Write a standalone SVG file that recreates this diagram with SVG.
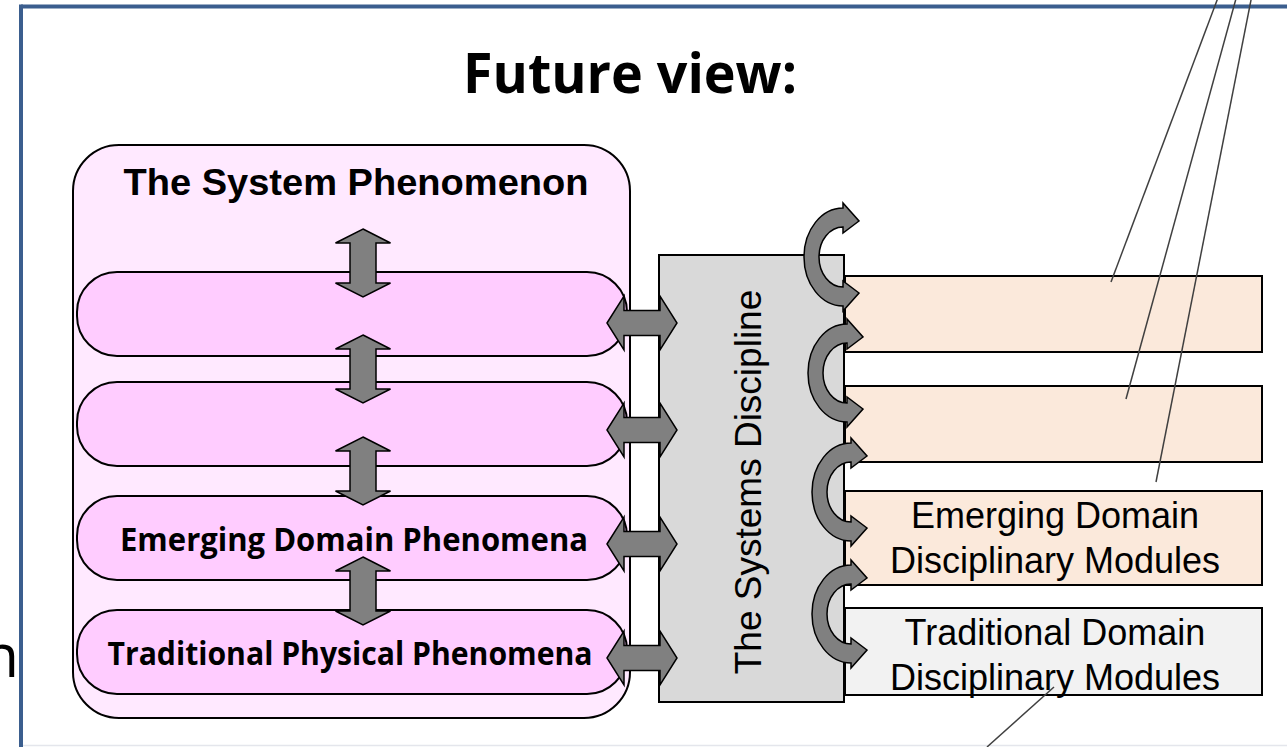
<svg xmlns="http://www.w3.org/2000/svg" xmlns:xlink="http://www.w3.org/1999/xlink" width="1287" height="747" viewBox="0 0 1287 747">
<defs>
<style>
.frame{stroke:#3B5E8E;stroke-width:4;fill:none}
.outer{fill:#FFE9FF;stroke:#000;stroke-width:2}
.pill{fill:#FFCCFF;stroke:#000;stroke-width:2}
.box{fill:#D9D9D9;stroke:#000;stroke-width:2}
.mod{fill:#FBE9DB;stroke:#000;stroke-width:2}
.trad{fill:#F2F2F2;stroke:#000;stroke-width:2}
.arrow{fill:#808080;stroke:#000;stroke-width:1.5;stroke-linejoin:miter}
.callout{stroke:#404040;stroke-width:1.5;fill:none}
.cal{font-family:"Open Sans","Liberation Sans",sans-serif;font-weight:bold;fill:#000}
.arb{font-family:"Liberation Sans",Arial,sans-serif;font-weight:bold;fill:#000}
.ar{font-family:"Liberation Sans",Arial,sans-serif;fill:#000}
</style>
<path id="varrow" d="M0,0 L27.5,14 L13,14 L13,54 L27.5,54 L0,68 L-27.5,54 L-13,54 L-13,14 L-27.5,14 Z"/>
<path id="harrow" d="M0,0 L17,-27 L17,-12.5 L53,-12.5 L53,-27 L70,0 L53,27 L53,12.5 L17,12.5 L17,27 Z"/>
<path id="carrow" d="M0,-49 A39,49 0 0 0 0,49 L0,54 L16,36 L0,24 L0,30 A24,30 0 0 1 0,-30 L0,-24 L16,-36 L0,-54 Z"/>
</defs>
<rect width="1287" height="747" fill="#fff"/>
<g id="frame">
<line x1="21" y1="6.5" x2="1287" y2="6.5" class="frame"/>
<line x1="21" y1="4.5" x2="21" y2="747" class="frame"/>
<line x1="23" y1="745.5" x2="1287" y2="745.5" stroke="#E4E6EC" stroke-width="1.5"/>
<text x="19" y="677" font-family="'Open Sans','Liberation Sans',sans-serif" font-size="60" text-anchor="end" fill="#000">n</text>
</g>
<g id="title">
<text x="630" y="93" class="cal" font-size="56" text-anchor="middle" textLength="334" lengthAdjust="spacingAndGlyphs">Future view:</text>
</g>
<g id="system-phenomenon">
<rect x="73" y="145" width="557" height="573" rx="46" ry="46" class="outer"/>
<text x="356" y="195" class="arb" font-size="37" text-anchor="middle" textLength="465" lengthAdjust="spacingAndGlyphs">The System Phenomenon</text>
</g>
<g id="pill-1"><rect x="77" y="272" width="550" height="84" rx="40" ry="40" class="pill"/></g>
<g id="pill-2"><rect x="77" y="382" width="550" height="84" rx="40" ry="40" class="pill"/></g>
<g id="pill-emerging"><rect x="77" y="496" width="550" height="84" rx="40" ry="40" class="pill"/>
<text x="354" y="551" class="cal" font-size="33" text-anchor="middle" textLength="468" lengthAdjust="spacingAndGlyphs">Emerging Domain Phenomena</text></g>
<g id="pill-traditional"><rect x="77" y="610" width="550" height="84" rx="40" ry="40" class="pill"/>
<text x="350" y="665" class="cal" font-size="33" text-anchor="middle" textLength="485" lengthAdjust="spacingAndGlyphs">Traditional Physical Phenomena</text></g>
<g id="systems-discipline">
<rect x="659" y="255" width="185" height="447" class="box"/>
<text transform="translate(761,482) rotate(-90)" class="ar" font-size="37" text-anchor="middle">The Systems Discipline</text>
</g>
<g id="module-1"><rect x="845" y="276" width="417" height="76" class="mod"/></g>
<g id="module-2"><rect x="845" y="386" width="417" height="76" class="mod"/></g>
<g id="module-emerging"><rect x="845" y="491" width="417" height="94" class="mod"/>
<text x="1055" y="528" class="ar" font-size="36" text-anchor="middle">Emerging Domain</text>
<text x="1055" y="573" class="ar" font-size="36" text-anchor="middle">Disciplinary Modules</text></g>
<g id="module-traditional"><rect x="845" y="608" width="417" height="87" class="trad"/>
<text x="1055" y="645" class="ar" font-size="36" text-anchor="middle">Traditional Domain</text>
<text x="1055" y="690" class="ar" font-size="36" text-anchor="middle">Disciplinary Modules</text></g>
<g id="connectors">
<use xlink:href="#varrow" x="363" y="229" class="arrow"/>
<use xlink:href="#varrow" x="363" y="335" class="arrow"/>
<use xlink:href="#varrow" x="363" y="437" class="arrow"/>
<use xlink:href="#varrow" x="363" y="557" class="arrow"/>
<use xlink:href="#harrow" x="607" y="323" class="arrow"/>
<use xlink:href="#harrow" x="607" y="430" class="arrow"/>
<use xlink:href="#harrow" x="607" y="544" class="arrow"/>
<use xlink:href="#harrow" x="607" y="658" class="arrow"/>
<use xlink:href="#carrow" x="843" y="257" class="arrow"/>
<use xlink:href="#carrow" x="847" y="373" class="arrow"/>
<use xlink:href="#carrow" x="851" y="492" class="arrow"/>
<use xlink:href="#carrow" x="851" y="614" class="arrow"/>
<line x1="1219" y1="-5" x2="1111" y2="282" class="callout"/>
<line x1="1237" y1="-5" x2="1126" y2="399" class="callout"/>
<line x1="1252" y1="-5" x2="1156" y2="482" class="callout"/>
<line x1="1054" y1="687" x2="987" y2="747" class="callout"/>
</g>
</svg>
